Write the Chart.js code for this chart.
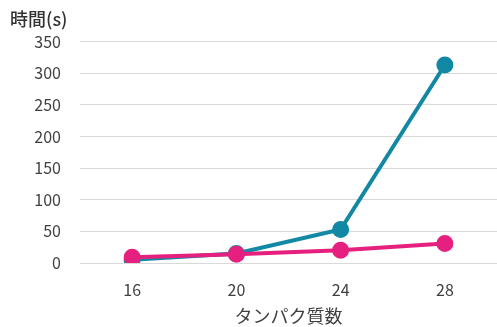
<!DOCTYPE html>
<html>
<head>
<meta charset="utf-8">
<script src="https://cdn.jsdelivr.net/npm/chart.js@4"></script>
<style>
  html, body { margin: 0; padding: 0; background: #fff; }
  #wrap { width: 497px; height: 327px; }
</style>
</head>
<body>
<div id="wrap"><canvas id="chart"></canvas></div>
<script>
const proteinCounts = ['16', '20', '24', '28'];
const timeTeal = [5, 15, 53, 313];
const timePink = [9, 14, 20, 31];
const yTicks = [0, 50, 100, 150, 200, 250, 300, 350];

const FONT = "'Noto Sans CJK JP', 'Noto Sans', sans-serif";
const TEAL = '#1288a4';
const PINK = '#e6207f';

new Chart(document.getElementById('chart'), {
  type: 'line',
  data: {
    labels: proteinCounts,
    datasets: [
      // pink first so it is drawn on top of the teal line
      {
        data: timePink,
        borderColor: PINK,
        backgroundColor: PINK,
        borderWidth: 4,
        pointRadius: 6.5,
        pointHoverRadius: 6.5,
        tension: 0
      },
      {
        data: timeTeal,
        borderColor: TEAL,
        backgroundColor: TEAL,
        borderWidth: 4,
        pointRadius: 6.5,
        pointHoverRadius: 6.5,
        tension: 0
      }
    ]
  },
  options: {
    responsive: true,
    maintainAspectRatio: false,
    animation: false,
    layout: { autoPadding: false, padding: { left: 10, right: 0, top: 0, bottom: 0 } },
    plugins: {
      legend: { display: false },
      tooltip: { enabled: false },
      title: {
        display: true,
        text: '時間(s)',
        align: 'start',
        color: '#333',
        font: { family: FONT, size: 18, weight: '500' },
        padding: { top: 8, bottom: 12 }
      }
    },
    scales: {
      x: {
        offset: true,
        grid: { display: false, drawTicks: false },
        border: { display: false },
        ticks: { color: '#404040', font: { family: FONT, size: 16 }, padding: 17 },
        title: {
          display: true,
          text: 'タンパク質数',
          color: '#404040',
          font: { family: FONT, size: 18 },
          padding: { top: 0, bottom: 0 }
        },
        afterFit: s => { s.height = 64; s.paddingLeft = 0; s.paddingRight = 0; }
      },
      y: {
        min: 0,
        max: 350,
        afterBuildTicks: s => { s.ticks = yTicks.map(v => ({ value: v })); },
        grid: { color: '#d9d9d9', lineWidth: 1, drawTicks: false },
        border: { display: false },
        ticks: { color: '#404040', font: { family: FONT, size: 16 }, padding: 19 },
        afterFit: s => { s.width = 70; }
      }
    }
  }
});
</script>
</body>
</html>
